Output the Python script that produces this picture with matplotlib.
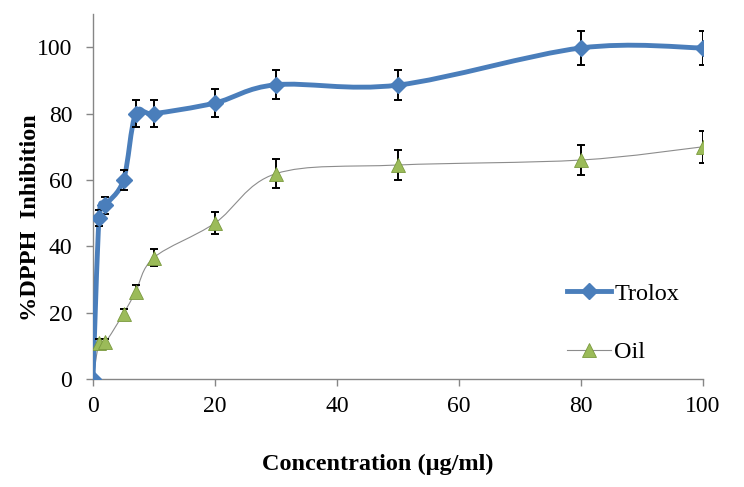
import matplotlib.pyplot as plt
from matplotlib.path import Path
from matplotlib.patches import PathPatch
from matplotlib.lines import Line2D

# Data
conc = [0, 1, 2, 5, 7, 10, 20, 30, 50, 80, 100]
trolox = [0, 48.5, 52.3, 60, 80, 80, 83.2, 88.7, 88.6, 99.8, 99.8]
trolox_err = [0, 2.4, 2.5, 2.9, 4, 4, 4.2, 4.4, 4.5, 5, 5]
oil = [0, 10.9, 11, 19.7, 26.3, 36.6, 47, 61.9, 64.5, 66, 70]
oil_err = [0, 1, 1, 1.5, 2, 2.5, 3.4, 4.3, 4.5, 4.5, 4.9]

blue = '#4A7EBB'
green = '#9BBB59'

plt.rcParams['font.family'] = ['Liberation Serif', 'DejaVu Serif']


def smooth_path(xs, ys):
    # Excel-style smoothed line: cubic Bezier between points
    pts = list(zip(xs, ys))
    n = len(pts)
    verts = [pts[0]]
    codes = [Path.MOVETO]
    for i in range(n - 1):
        p0 = pts[i - 1] if i > 0 else pts[i]
        p1 = pts[i]
        p2 = pts[i + 1]
        p3 = pts[i + 2] if i + 2 < n else pts[i + 1]
        c1 = (p1[0] + (p2[0] - p0[0]) / 6, p1[1] + (p2[1] - p0[1]) / 6)
        c2 = (p2[0] - (p3[0] - p1[0]) / 6, p2[1] - (p3[1] - p1[1]) / 6)
        verts += [c1, c2, p2]
        codes += [Path.CURVE4] * 3
    return Path(verts, codes)


fig = plt.figure(figsize=(7.44, 4.87), dpi=100)
ax = fig.add_axes([0.125, 0.222, 0.82, 0.749])

ax.add_patch(PathPatch(smooth_path(conc, oil), fill=False, edgecolor='#8C8C8C',
                       lw=0.8, zorder=2))
ax.add_patch(PathPatch(smooth_path(conc, trolox), fill=False, edgecolor=blue,
                       lw=3.5, zorder=3, capstyle='round', joinstyle='round'))

ax.errorbar(conc, oil, yerr=oil_err, fmt='none', ecolor='black', elinewidth=1.4,
            capsize=3, capthick=1.4, zorder=4)
ax.errorbar(conc, trolox, yerr=trolox_err, fmt='none', ecolor='black', elinewidth=1.4,
            capsize=3, capthick=1.4, zorder=4)

ax.plot(conc, oil, linestyle='none', marker='^', markersize=10, markerfacecolor=green,
        markeredgecolor='#7A9A3E', markeredgewidth=0.6, zorder=5)
ax.plot(conc, trolox, linestyle='none', marker='D', markersize=8.5, markerfacecolor=blue,
        markeredgecolor=blue, zorder=6)

ax.set_xlim(0, 100)
ax.set_ylim(0, 110)
ax.set_xticks([0, 20, 40, 60, 80, 100])
ax.set_yticks([0, 20, 40, 60, 80, 100])
ax.spines['top'].set_visible(False)
ax.spines['right'].set_visible(False)
ax.spines['bottom'].set_bounds(0, 100)
for s in ['left', 'bottom']:
    ax.spines[s].set_color('#868686')
    ax.spines[s].set_linewidth(1)
ax.tick_params(axis='both', colors='#868686', labelcolor='black', length=5, width=1,
               labelsize=17)
ax.tick_params(axis='x', pad=7)
ax.tick_params(axis='y', pad=10)
for lab in ax.get_xticklabels() + ax.get_yticklabels():
    lab.set_clip_on(False)

ax.set_xlabel('Concentration (μg/ml)', fontsize=17.5, fontweight='bold')
ax.set_ylabel('%DPPH  Inhibition', fontsize=17.5, fontweight='bold')
ax.xaxis.set_label_coords(0.466, -0.205)
ax.yaxis.set_label_coords(-0.085, 0.441)

handles = [
    Line2D([], [], color=blue, lw=3.5, marker='D', markersize=8.5,
           markerfacecolor=blue, markeredgecolor=blue),
    Line2D([], [], color='#8C8C8C', lw=0.8, marker='^', markersize=10,
           markerfacecolor=green, markeredgecolor='#7A9A3E', markeredgewidth=0.6),
]
ax.legend(handles, ['Trolox', 'Oil'], loc='upper left', bbox_to_anchor=(0.777, 0.263),
          frameon=False, fontsize=17.5, handlelength=1.8, handletextpad=0.15,
          labelspacing=1.5, borderpad=0, borderaxespad=0)

fig.savefig('out.png', dpi=100)
